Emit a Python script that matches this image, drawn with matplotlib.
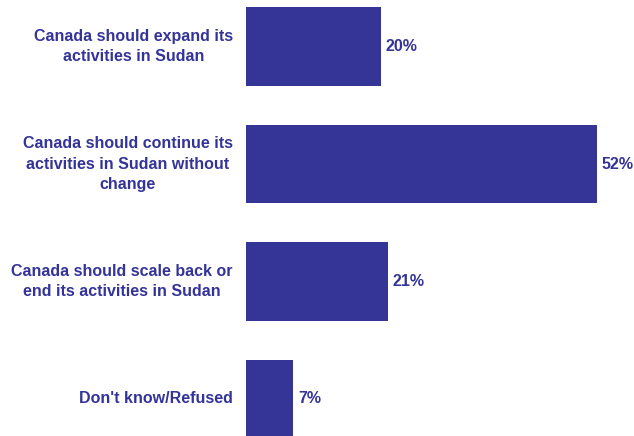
import matplotlib
matplotlib.use("Agg")
import matplotlib.pyplot as plt
from matplotlib.transforms import offset_copy

# survey responses
categories = [
    "Canada should expand its\nactivities in Sudan",
    "Canada should continue its\nactivities in Sudan without\nchange",
    "Canada should scale back or\nend its activities in Sudan",
    "Don't know/Refused",
]
percentages = [20, 52, 21, 7]

bar_color = "#353597"
text_color = "#333399"

plt.rcParams["font.family"] = ["Liberation Sans", "DejaVu Sans"]

fig = plt.figure(figsize=(6.34, 4.36), dpi=100)
ax = fig.add_axes([246 / 634, 0, 371 / 634, 1])

ypos = list(range(len(categories)))
ax.barh(ypos, percentages, height=0.67, color=bar_color)

ax.set_xlim(0, 55)
ax.set_ylim(3.315, -0.396)
ax.axis("off")

# value labels to the right of each bar
val_trans = offset_copy(ax.transData, fig=fig, x=5, y=0, units="dots")
for y, v in zip(ypos, percentages):
    ax.text(v, y, f"{v}%", transform=val_trans, ha="left", va="center",
            fontsize=11.5, fontweight="bold", color=text_color)

# category labels on the left
cat_trans = offset_copy(ax.transData, fig=fig, x=-13, y=0, units="dots")
for y, label in zip(ypos, categories):
    ax.text(0, y, label, transform=cat_trans, ha="right", va="center",
            multialignment="center", linespacing=1.42,
            fontsize=11.5, fontweight="bold", color=text_color)

fig.savefig("out.png", dpi=100)
